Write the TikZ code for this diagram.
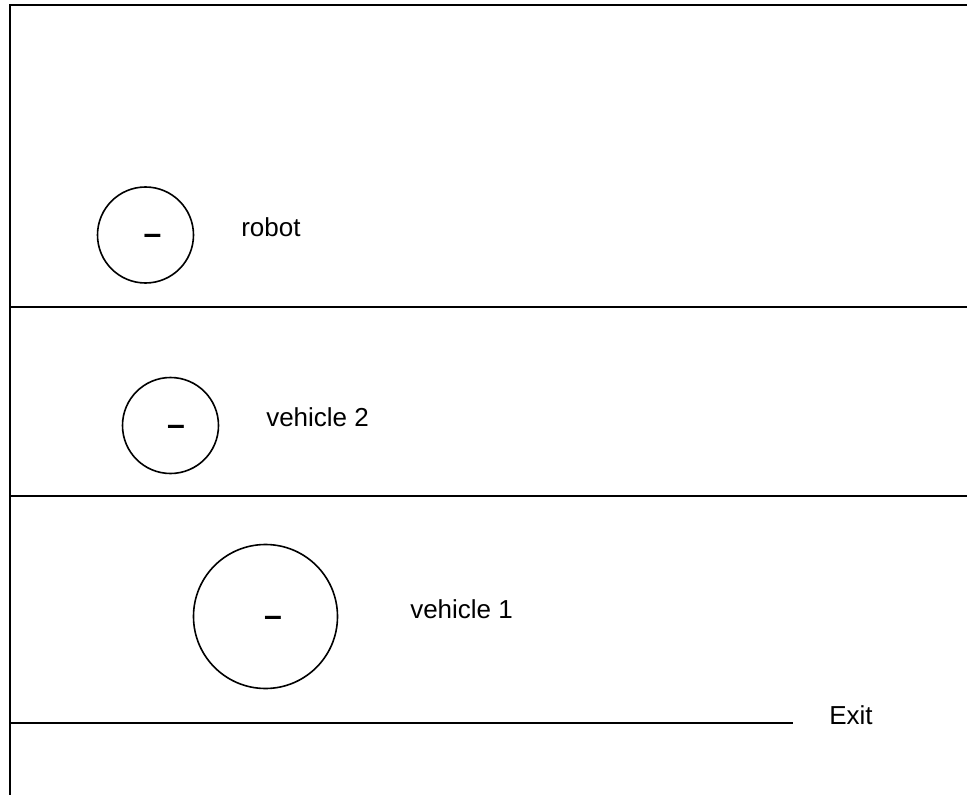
\documentclass[tikz,border=0pt]{standalone}
\usepackage{fontspec}
\setmainfont{Liberation Sans}
\begin{document}
\begin{tikzpicture}[x=0.75pt,y=-0.75pt,
  wall/.style={line width=1.7pt,black},
  body/.style={draw,circle,line width=1.2pt,inner sep=0pt},
  dashsign/.style={inner sep=0pt,font=\fontsize{24}{28}\selectfont\bfseries},
  lbl/.style={anchor=base west,inner sep=0pt,font=\fontsize{19.5}{23}\selectfont}]
  \useasboundingbox (0,0) rectangle (967,795);
  % outer walls and lane dividers
  \draw[wall] (10,795) -- (10,5) -- (967,5);
  \draw[wall] (10,307) -- (967,307);
  \draw[wall] (10,496) -- (967,496);
  \draw[wall] (10,723) -- (793,723);
  % agents
  \node[body,minimum size=72pt] (robot) at (145.5,235) {};
  \node[dashsign] (robotmark) at (152.5,239) {–};
  \node[lbl] (robotlbl) at (241,236) {robot};
  \node[body,minimum size=72pt] (veh2) at (170.5,425.5) {};
  \node[dashsign] (veh2mark) at (176,430) {–};
  \node[lbl] (veh2lbl) at (266,426) {vehicle 2};
  \node[body,minimum size=108pt] (veh1) at (265.5,616.5) {};
  \node[dashsign] (veh1mark) at (273,621) {–};
  \node[lbl] (veh1lbl) at (410,618) {vehicle 1};
  \node[lbl] (exit) at (829,724) {Exit};
\end{tikzpicture}
\end{document}
